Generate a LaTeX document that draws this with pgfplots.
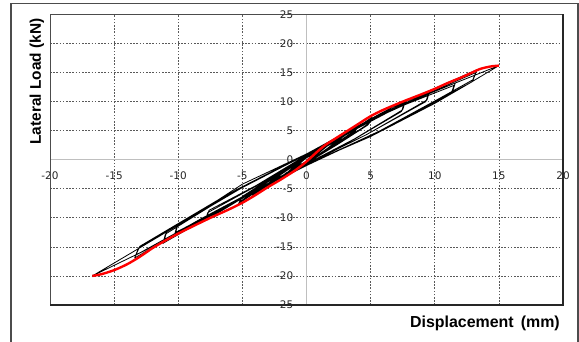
\documentclass[border=0pt]{standalone}
\usepackage{pgfplots}
\pgfplotsset{compat=1.18}
\usepackage{fontspec}
\setmainfont{Liberation Sans}
\newfontfamily\dejavu{DejaVu Sans}
\begin{document}
\begin{tikzpicture}
\useasboundingbox (0bp,0bp) rectangle (579bp,342bp);
\draw[gray!60!black, line width=1.2bp] (11bp,-2bp) -- (11bp,338.7bp) -- (578bp,338.7bp) -- (578bp,-2bp);
\begin{axis}[at={(50bp,37bp)}, anchor=south west, width=513bp, height=290.5bp, scale only axis,
  xmin=-20, xmax=20, ymin=-25, ymax=25,
  axis lines=middle, axis line style={-, gray!50, line width=0.9bp},
  xtick={-20,-15,...,20}, ytick={-25,-20,...,25},
  grid=major, major grid style={dash pattern=on 1.6bp off 1.6bp, gray!70!black, line width=0.7bp},
  major tick length=0pt,
  hide obscured x ticks=false, hide obscured y ticks=false,
  ticklabel style={font=\dejavu\fontsize{10.5}{12}\selectfont, inner sep=0pt, text=black!85},
  xticklabel style={anchor=north, yshift=-12bp},
  yticklabel style={anchor=east, xshift=-13bp},
  /pgf/number format/assume math mode=true,
  clip=false]
\addplot[black, line width=0.8bp, line join=round] table {
x y
0 0
0.5 0.6
1.0 1.7
0.9 1.2
0.45 0.3
0 -0.35
-0.5 -0.8
-1.0 -1.9
-0.9 -1.4
-0.45 -0.5
0 0.35
0.9 1.2
1.8 3.1
1.65 2.5
0.85 1.1
0 -0.4
-0.95 -1.3
-1.9 -3.3
-1.75 -2.7
-0.9 -1.1
0 0.4
0.9 1.2
1.8 2.9
1.65 2.4
0.85 1.0
0 -0.4
-0.95 -1.3
-1.85 -3.1
-1.7 -2.6
-0.9 -1.0
0 0.4
1.45 2.1
2.9 4.6
2.75 3.8
1.4 1.6
0 -0.45
-1.55 -2.2
-3.1 -4.8
-2.95 -4.0
-1.5 -1.8
0 0.5
1.45 2.1
2.85 4.3
2.7 3.6
1.4 1.5
0 -0.45
-1.5 -2.2
-3.0 -4.5
-2.85 -3.8
-1.5 -1.7
0 0.5
2.0 2.8
4.0 6.0
3.8 5.1
1.9 2.2
0 -0.5
-2.1 -3.1
-4.2 -6.2
-4.0 -5.3
-2.0 -2.3
0 0.6
2.0 2.8
4.0 5.7
3.8 4.9
1.9 2.1
0 -0.5
-2.1 -3.0
-4.1 -5.9
-3.9 -5.1
-2.0 -2.2
0 0.6
2.55 3.5
5.1 7.3
4.9 6.3
2.5 2.8
0 -0.6
-2.65 -3.55
-5.3 -7.6
-5.1 -6.6
-2.6 -3.0
0 0.7
2.5 3.5
5.0 6.9
4.8 6.0
2.4 2.6
0 -0.6
-2.6 -3.5
-5.2 -7.2
-5.0 -6.3
-2.6 -2.9
0 0.7
3.85 5.3
7.7 10.0
7.5 8.6
3.75 3.6
0 -0.7
-3.95 -5.2
-7.9 -10.5
-7.7 -9.1
-3.9 -4.5
0 0.8
3.8 5.2
7.6 9.6
7.4 8.3
3.7 3.5
0 -0.7
-3.9 -5.1
-7.8 -10.0
-7.6 -8.7
-3.9 -4.4
0 0.8
4.8 6.6
9.6 11.8
9.4 10.3
4.7 4.35
0 -0.8
-5.15 -6.8
-10.3 -13.0
-10.1 -11.4
-5.05 -4.85
0 0.9
4.8 6.6
9.5 11.3
9.3 10.0
4.65 4.3
0 -0.8
-5.1 -6.7
-10.2 -12.5
-10.0 -11.0
-5.0 -4.7
0 0.9
5.8 8.0
11.6 13.2
11.4 11.8
5.7 4.95
0 -0.9
-5.6 -7.3
-11.2 -14.4
-11.0 -12.8
-5.5 -5.3
0 1.0
5.75 7.8
11.5 12.8
11.3 11.5
5.65 4.9
0 -0.9
-5.55 -7.2
-11.1 -13.9
-10.9 -12.4
-5.5 -5.2
0 1.0
6.65 9.0
13.3 15.5
13.0 13.8
6.5 5.8
0 -1.0
-6.7 -8.4
-13.4 -16.9
-13.1 -15.2
-6.55 -6.5
0 1.0
6.6 8.7
13.2 15.0
12.9 13.4
6.45 5.7
0 -1.0
-6.65 -8.3
-13.3 -16.4
-13.0 -14.9
-6.5 -6.4
0 1.0
7.5 9.6
15 16.2
12.5 12.9
10 9.7
5 4.0
0 -0.8
-4 -5.2
-8.35 -10.3
-12.5 -15.5
-16.7 -20
-14.1 -16.6
-11.5 -13.2
-8 -8.5
-5 -4.2
0 1.0
};
\addplot[red, line width=2.4bp, smooth, tension=0.5] table {
x y
-16.7 -20
-16 -19.7
-15 -19.0
-14 -18.0
-13 -16.7
-12 -15.2
-11 -13.9
-10 -12.7
-9 -11.6
-7.5 -10.0
-6 -8.5
-5 -7.4
-4 -6.1
-3 -4.7
-2 -3.4
-1 -2.0
-0.5 -1.2
0 -0.3
0.5 0.7
1 1.7
1.5 2.6
2 3.3
3 4.7
4 6.1
5 7.5
6 8.6
7.5 10.0
9 11.3
10 12.2
11 13.2
12 14.1
13 15.1
13.5 15.6
14 15.9
14.5 16.1
15 16.2
};
\draw[gray!60!black, line width=1bp] (rel axis cs:0,0) rectangle (rel axis cs:1,1);
\draw[black!85, line width=1.6bp] (rel axis cs:0,0) -- (rel axis cs:1,0) -- (rel axis cs:1,1);
\end{axis}
\node[rotate=90, font=\bfseries\fontsize{15.5}{18}\selectfont] at (37bp,260.5bp) {Lateral Load (kN)};
\node[anchor=east, font=\bfseries\fontsize{16}{18}\selectfont, inner sep=0pt] at (560bp,19bp) {Displacement\, (mm)};
\end{tikzpicture}
\end{document}
